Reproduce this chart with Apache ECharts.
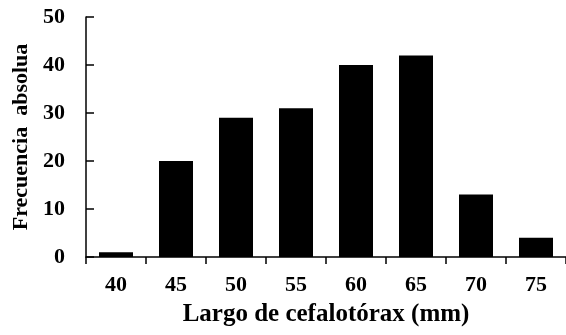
<!DOCTYPE html>
<html>
<head>
<meta charset="utf-8">
<script src="https://cdn.jsdelivr.net/npm/echarts@6/dist/echarts.min.js"></script>
<style>
html,body{margin:0;padding:0;background:#fff;}
#chart{width:566px;height:335px;}
</style>
</head>
<body>
<div id="chart"></div>
<script>
const categories = ['40', '45', '50', '55', '60', '65', '70', '75'];
const frequencies = [1, 20, 29, 31, 40, 42, 13, 4];
const yTicks = [0, 10, 20, 30, 40, 50];

const font = '"Liberation Serif", "Times New Roman", serif';
const chart = echarts.init(document.getElementById('chart'), null, {renderer: 'canvas'});
chart.setOption({
  animation: false,
  backgroundColor: '#fff',
  grid: {left: 86, top: 17, bottom: 78, width: 484},
  xAxis: {
    type: 'category',
    data: categories,
    boundaryGap: true,
    name: 'Largo de cefalotórax (mm)',
    nameLocation: 'middle',
    nameGap: 45,
    nameTextStyle: {fontFamily: font, fontWeight: 'bold', fontSize: 25, color: '#000'},
    axisLine: {lineStyle: {color: '#000', width: 1.5}},
    axisTick: {show: true, alignWithLabel: false, length: 7, lineStyle: {color: '#000', width: 1.5}},
    axisLabel: {fontFamily: font, fontWeight: 'bold', fontSize: 22, color: '#000', margin: 17}
  },
  yAxis: {
    type: 'value',
    min: yTicks[0],
    max: yTicks[yTicks.length - 1],
    interval: 10,
    name: 'Frecuencia  absolua',
    nameLocation: 'middle',
    nameGap: 52,
    nameTextStyle: {fontFamily: font, fontWeight: 'bold', fontSize: 22, color: '#000'},
    splitLine: {show: false},
    axisLine: {show: true, lineStyle: {color: '#000', width: 1.5}},
    axisTick: {show: true, inside: true, length: 8, lineStyle: {color: '#000', width: 1.5}},
    axisLabel: {fontFamily: font, fontWeight: 'bold', fontSize: 22, color: '#000', margin: 21}
  },
  series: [{
    type: 'bar',
    data: frequencies,
    barWidth: 34,
    itemStyle: {color: '#000'}
  }]
});
</script>
</body>
</html>
